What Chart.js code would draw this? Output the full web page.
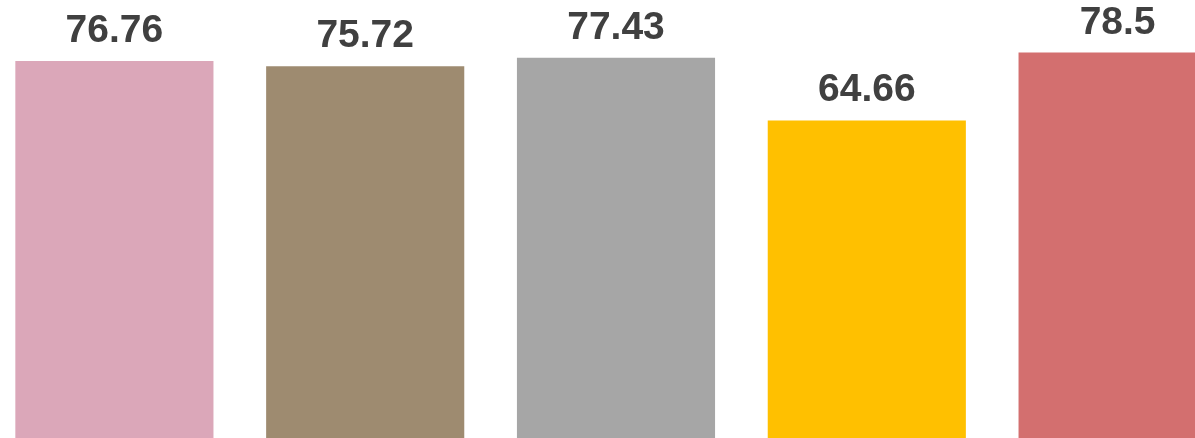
<!DOCTYPE html>
<html>
<head>
<meta charset="utf-8">
<script src="https://cdn.jsdelivr.net/npm/chart.js@4/dist/chart.umd.min.js"></script>
<style>
  html, body { margin: 0; padding: 0; background: #fff; overflow: hidden; }
  #wrap { position: absolute; left: -11px; top: 0; width: 1254px; height: 438px; }
</style>
</head>
<body>
<div id="wrap"><canvas id="myChart"></canvas></div>
<script>
'use strict';

let categories = ['Group 1', 'Group 2', 'Group 3', 'Group 4', 'Group 5'];
let scores = [76.76, 75.72, 77.43, 64.66, 78.5];
let barColors = ['#dba7b9', '#9e8b70', '#a6a6a6', '#ffc000', '#d36f6f'];

// writes each value above its bar
let valueLabels = {
  id: 'valueLabels',
  afterDatasetsDraw(chart) {
    let ctx = chart.ctx;
    let meta = chart.getDatasetMeta(0);
    ctx.save();
    ctx.font = 'bold 39px "Liberation Sans", Arial, sans-serif';
    ctx.fillStyle = '#404040';
    ctx.textAlign = 'center';
    ctx.textBaseline = 'alphabetic';
    meta.data.forEach(function (bar, i) {
      ctx.fillText(String(scores[i]), bar.x, bar.y - 19);
    });
    ctx.restore();
  }
};

let ctx = document.getElementById('myChart').getContext('2d');

let chart = new Chart(ctx, {
  type: 'bar',
  data: {
    labels: categories,
    datasets: [
      {
        label: 'Score',
        data: scores,
        backgroundColor: barColors,
        borderWidth: 0,
        categoryPercentage: 1,
        barPercentage: 0.79
      }
    ]
  },
  options: {
    responsive: true,
    maintainAspectRatio: false,
    animation: false,
    layout: { padding: 0 },
    plugins: {
      legend: { display: false },
      tooltip: { enabled: false }
    },
    scales: {
      x: { display: false },
      y: { display: false, min: 0, max: 89.2 }
    }
  },
  plugins: [valueLabels]
});
</script>
</body>
</html>
